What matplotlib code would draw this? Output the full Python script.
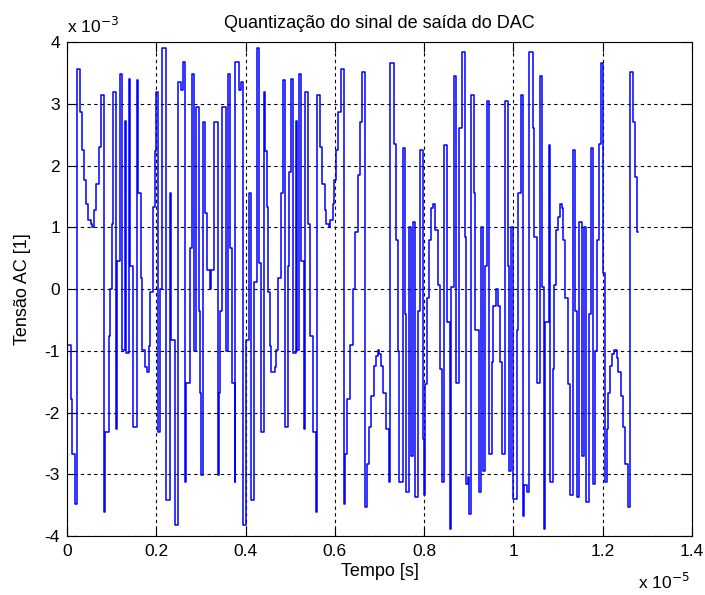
import matplotlib
matplotlib.use("Agg")
import matplotlib.pyplot as plt
import numpy as np

plt.rcParams['font.family'] = ['Liberation Sans', 'DejaVu Sans']

# step start times (x 1e-5 s) and held levels (x 1e-3)
t_start = [0.000, 0.001, 0.010, 0.012, 0.019, 0.022, 0.029, 0.033, 0.038, 0.043,
           0.048, 0.053, 0.055, 0.061, 0.065, 0.072, 0.076, 0.083, 0.085, 0.094,
           0.097, 0.100, 0.104, 0.109, 0.113, 0.119, 0.123, 0.130, 0.133, 0.138,
           0.142, 0.149, 0.157, 0.160, 0.166, 0.169, 0.175, 0.179, 0.184, 0.187,
           0.193, 0.197, 0.200, 0.203, 0.209, 0.213, 0.222, 0.230, 0.234, 0.241,
           0.248, 0.255, 0.259, 0.265, 0.267, 0.275, 0.279, 0.284, 0.289, 0.295,
           0.297, 0.301, 0.304, 0.310, 0.314, 0.321, 0.323, 0.330, 0.338, 0.340,
           0.342, 0.348, 0.357, 0.360, 0.366, 0.369, 0.376, 0.377, 0.385, 0.389,
           0.395, 0.402, 0.408, 0.412, 0.420, 0.425, 0.431, 0.435, 0.441, 0.444,
           0.447, 0.450, 0.455, 0.458, 0.465, 0.468, 0.473, 0.479, 0.485, 0.488,
           0.494, 0.498, 0.501, 0.506, 0.512, 0.515, 0.520, 0.525, 0.531, 0.533,
           0.540, 0.545, 0.550, 0.557, 0.560, 0.567, 0.572, 0.578, 0.581, 0.586,
           0.589, 0.595, 0.599, 0.602, 0.606, 0.613, 0.621, 0.623, 0.628, 0.634,
           0.640, 0.645, 0.651, 0.656, 0.661, 0.667, 0.672, 0.677, 0.681, 0.688,
           0.692, 0.696, 0.700, 0.703, 0.709, 0.715, 0.722, 0.724, 0.732, 0.736,
           0.741, 0.744, 0.752, 0.757, 0.760, 0.767, 0.771, 0.776, 0.780, 0.786,
           0.790, 0.797, 0.799, 0.802, 0.806, 0.811, 0.816, 0.820, 0.825, 0.831,
           0.835, 0.840, 0.844, 0.852, 0.858, 0.861, 0.867, 0.872, 0.878, 0.885,
           0.891, 0.893, 0.898, 0.900, 0.906, 0.912, 0.915, 0.923, 0.927, 0.932,
           0.936, 0.941, 0.945, 0.951, 0.955, 0.960, 0.966, 0.970, 0.975, 0.981,
           0.987, 0.990, 0.994, 0.999, 1.007, 1.010, 1.016, 1.022, 1.024, 1.031,
           1.035, 1.044, 1.047, 1.052, 1.059, 1.063, 1.069, 1.071, 1.079, 1.083,
           1.088, 1.091, 1.096, 1.100, 1.104, 1.108, 1.112, 1.116, 1.123, 1.127,
           1.133, 1.138, 1.142, 1.147, 1.153, 1.159, 1.163, 1.169, 1.174, 1.179,
           1.183, 1.188, 1.192, 1.197, 1.201, 1.205, 1.209, 1.213, 1.216, 1.221,
           1.226, 1.231, 1.234, 1.240, 1.245, 1.251, 1.257, 1.261, 1.269, 1.273,
           1.277]
levels = [0.00, -0.90, -1.78, -2.67, -3.48, 3.56, 2.87, 2.26, 1.76, 1.38,
          1.12, 1.06, 1.00, 1.28, 1.70, 2.30, 3.15, -3.61, -2.32, -0.76,
          0.00, 1.06, 3.19, -2.27, 0.45, 3.48, -0.98, 2.73, -1.03, 3.40,
          0.37, -2.24, 3.38, 1.55, 0.18, -0.98, -1.27, -1.35, -0.92, -0.04,
          1.33, 2.24, 3.19, -2.32, 0.00, 3.91, -3.42, 1.55, -0.82, -3.83,
          3.35, 3.22, 3.67, -3.13, -1.52, 0.66, 3.48, -1.01, 2.95, -0.36,
          -1.68, -3.02, 2.70, 1.23, 0.31, 0.00, 0.31, 2.70, -3.02, -1.68,
          -0.36, 2.95, -1.01, 3.48, 0.66, -1.52, -3.13, 3.67, 3.22, 3.35,
          -3.83, -0.82, 1.55, -3.42, 0.12, 3.91, 0.42, -2.32, 3.19, 2.24,
          1.33, -0.04, -0.92, -1.35, -1.27, -0.98, 0.18, 1.55, 3.38, -2.24,
          0.37, 1.90, 3.40, -1.03, 2.73, -0.98, 3.48, 0.45, -2.27, 3.19,
          1.06, -0.76, -2.32, -3.61, 3.15, 2.30, 1.70, 1.28, 1.06, 1.00,
          1.12, 1.38, 1.76, 2.26, 2.87, 3.56, -3.48, -2.67, -1.78, -0.90,
          0.00, 0.93, 1.84, 2.70, 3.51, -3.53, -2.83, -2.24, -1.73, -1.25,
          -1.09, -0.98, -1.06, -1.25, -1.68, -2.27, -3.13, 3.66, 2.35, 0.80,
          -1.01, -3.13, 2.29, -0.41, -3.29, 1.00, -2.70, 1.08, -3.37, -0.36,
          2.26, -2.43, -3.34, -1.54, -0.15, 0.80, 1.31, 1.38, 0.96, 0.07,
          -1.30, -3.13, 2.33, -0.54, -3.88, 0.04, 3.45, -1.52, 2.61, 3.84,
          0.85, -3.16, -3.05, -3.64, 3.15, 1.55, -0.66, -3.29, 1.01, -2.94,
          0.37, 3.05, -2.67, -1.18, -0.28, 0.00, -0.28, -1.18, -2.67, 3.05,
          0.37, -2.94, 1.01, -3.40, -0.66, 1.55, 3.15, -3.67, -3.18, -3.29,
          3.84, 2.61, 0.85, -1.52, 3.45, 0.04, -3.88, -0.54, 2.33, -3.13,
          -1.30, 0.07, 0.96, 1.17, 1.38, 1.31, 0.80, -0.15, -1.54, -3.34,
          2.26, -0.36, -3.37, 1.08, -2.70, 1.00, -3.45, -0.41, 2.29, -3.16,
          -1.01, 0.80, 2.35, 3.66, 0.26, -3.13, -2.27, -1.68, -1.25, -1.06,
          -0.98, -1.11, -1.35, -1.73, -2.24, -2.83, -3.53, 3.51, 2.70, 1.82,
          0.93]
t_end = 1.279

x_ticks = [0, 0.2, 0.4, 0.6, 0.8, 1.0, 1.2, 1.4]
x_tick_labels = ['0', '0.2', '0.4', '0.6', '0.8', '1', '1.2', '1.4']
y_ticks = [-4, -3, -2, -1, 0, 1, 2, 3, 4]

t = np.array(t_start + [t_end]) * 1e-5
v = np.array(levels + [levels[-1]]) * 1e-3

fig = plt.figure(figsize=(7.05, 5.95), dpi=100)
ax = fig.add_axes([0.095, 0.0992, 0.8865, 0.830])
ax.step(t, v, where='post', color=(0, 0, 1), lw=1.1)

ax.set_xlim(0, 1.4e-5)
ax.set_ylim(-4e-3, 4e-3)
ax.set_xticks([x * 1e-5 for x in x_ticks])
ax.set_xticklabels(x_tick_labels)
ax.set_yticks([y * 1e-3 for y in y_ticks])
ax.set_yticklabels([str(y) for y in y_ticks])
ax.tick_params(direction='in', top=True, right=True, labelsize=12.5, length=7,
               width=0.8)
ax.tick_params(axis='x', pad=6)
ax.tick_params(axis='y', pad=5)
ax.grid(True, color='black', linestyle=(0, (3, 3)), linewidth=0.8)
for s in ax.spines.values():
    s.set_linewidth(0.8)

ax.set_title('Quantização do sinal de saída do DAC', fontsize=13, pad=10)
ax.set_xlabel('Tempo [s]', fontsize=13, labelpad=3)
ax.set_ylabel('Tensão AC [1]', fontsize=13, labelpad=10)
ax.text(0.0, 1.018, r'x 10$^{-3}$', transform=ax.transAxes, fontsize=12.5,
        ha='left', va='baseline')
ax.text(0.997, -0.107, r'x 10$^{-5}$', transform=ax.transAxes, fontsize=12.5,
        ha='right', va='baseline')

fig.savefig('out.png', dpi=100, facecolor='white')
